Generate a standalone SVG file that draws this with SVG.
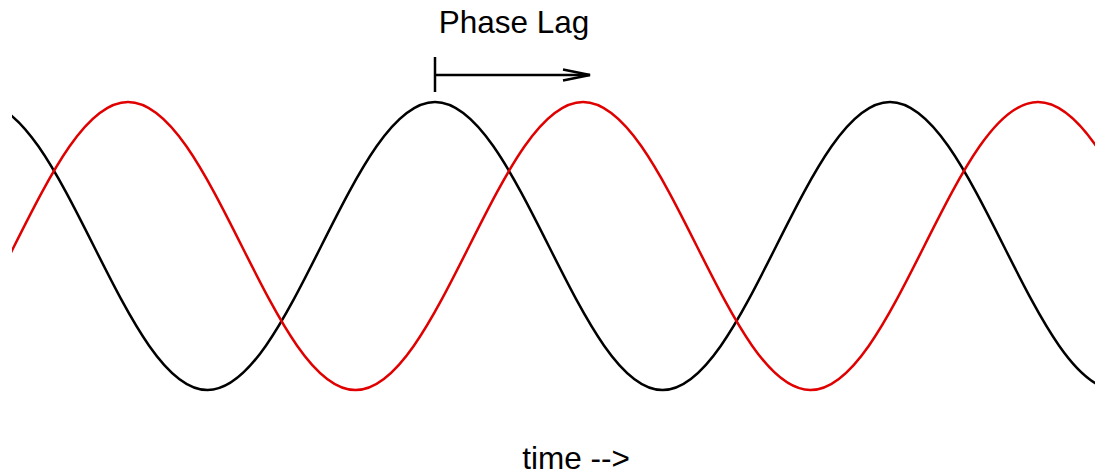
<svg xmlns="http://www.w3.org/2000/svg" width="1109" height="475" viewBox="0 0 1109 475">
<style>
.wave{fill:none;stroke-width:2.5;stroke-linejoin:round}
.black{stroke:#000}
.red{stroke:#e00000}
.lbl{font-family:"Liberation Sans",Arial,sans-serif;font-size:31.5px;fill:#000;text-anchor:middle}
.arr{fill:none;stroke:#000;stroke-width:2.5}
</style>
<defs>
<clipPath id="c"><rect x="12" y="0" width="1083" height="475"/></clipPath>
</defs>
<rect width="1109" height="475" fill="#fff"/>
<g id="black-wave" clip-path="url(#c)">
<path class="wave black" d="M -20 102 C 21.15 102, 56.65 172.2, 93.75 246 C 130.85 319.8, 166.35 390, 207.5 390 C 248.65 390, 284.15 319.8, 321.25 246 C 358.35 172.2, 393.85 102, 435 102 C 476.15 102, 511.65 172.2, 548.75 246 C 585.85 319.8, 621.35 390, 662.5 390 C 703.65 390, 739.15 319.8, 776.25 246 C 813.35 172.2, 848.85 102, 890 102 C 931.15 102, 966.65 172.2, 1003.75 246 C 1040.85 319.8, 1076.35 390, 1117.5 390"/>
</g>
<g id="red-wave" clip-path="url(#c)">
<path class="wave red" d="M -99.5 390 C -58.35 390, -22.85 319.8, 14.25 246 C 51.35 172.2, 86.85 102, 128 102 C 169.15 102, 204.65 172.2, 241.75 246 C 278.85 319.8, 314.35 390, 355.5 390 C 396.65 390, 432.15 319.8, 469.25 246 C 506.35 172.2, 541.85 102, 583 102 C 624.15 102, 659.65 172.2, 696.75 246 C 733.85 319.8, 769.35 390, 810.5 390 C 851.65 390, 887.15 319.8, 924.25 246 C 961.35 172.2, 996.85 102, 1038 102 C 1079.15 102, 1114.65 172.2, 1151.75 246"/>
</g>
<g id="connectors">
<line class="arr" x1="435" y1="57" x2="435" y2="92"/>
<line class="arr" x1="435" y1="75" x2="590" y2="75"/>
<polyline class="arr" points="563,69.5 590,75 563,80.5"/>
</g>
<g id="phase-lag-label"><text class="lbl" x="514" y="33">Phase Lag</text></g>
<g id="time-label"><text class="lbl" x="576" y="469">time --&gt;</text></g>
</svg>
